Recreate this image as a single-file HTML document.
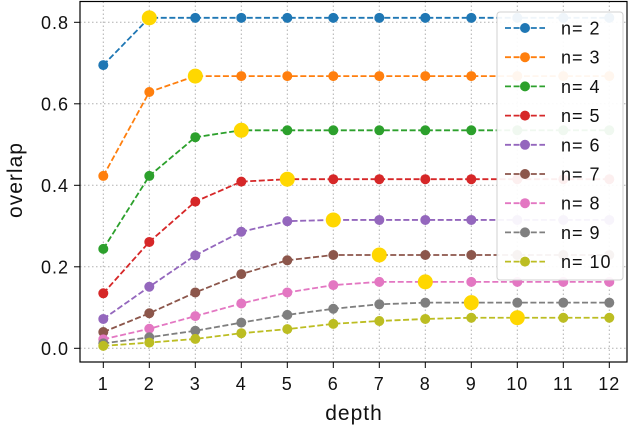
<!DOCTYPE html>
<html><head><meta charset="utf-8"><style>
body{margin:0;background:#fff;}
svg text{font-family:"Liberation Sans","DejaVu Sans",sans-serif;fill:#111;letter-spacing:1px;}
</style></head><body>
<svg id="chart" width="636" height="428" xmlns="http://www.w3.org/2000/svg">
<g id="grid"></g>
<g id="series"></g>
<rect x="80" y="1.5" width="547" height="360.5" fill="none" stroke="#000" stroke-width="1.2"/>
<g id="ticks"></g>
<text x="354" y="420" text-anchor="middle" font-size="21">depth</text>
<text transform="translate(22,180) rotate(-90)" text-anchor="middle" font-size="21">overlap</text>
<g id="legend"></g>
</svg>
<script>
const depths=[1,2,3,4,5,6,7,8,9,10,11,12];
const labels=["n= 2","n= 3","n= 4","n= 5","n= 6","n= 7","n= 8","n= 9","n= 10"];
const nValues=[2,3,4,5,6,7,8,9,10];
const colors=["#1f77b4","#ff7f0e","#2ca02c","#d62728","#9467bd","#8c564b","#e377c2","#7f7f7f","#bcbd22"];
const s2=[0.695,0.811,0.811,0.811,0.811,0.811,0.811,0.811,0.811,0.811,0.811,0.811];
const s3=[0.423,0.629,0.668,0.668,0.668,0.668,0.668,0.668,0.668,0.668,0.668,0.668];
const s4=[0.244,0.423,0.518,0.535,0.535,0.535,0.535,0.535,0.535,0.535,0.535,0.535];
const s5=[0.135,0.261,0.36,0.409,0.415,0.415,0.415,0.415,0.415,0.415,0.415,0.415];
const s6=[0.072,0.151,0.228,0.286,0.312,0.315,0.315,0.315,0.315,0.315,0.315,0.315];
const s7=[0.04,0.086,0.137,0.182,0.216,0.229,0.229,0.229,0.229,0.229,0.229,0.229];
const s8=[0.022,0.048,0.079,0.11,0.137,0.155,0.163,0.163,0.163,0.163,0.163,0.163];
const s9=[0.012,0.027,0.043,0.063,0.082,0.097,0.108,0.112,0.112,0.112,0.112,0.112];
const s10=[0.006,0.014,0.023,0.037,0.047,0.06,0.067,0.072,0.075,0.075,0.075,0.075];
const series=[s2,s3,s4,s5,s6,s7,s8,s9,s10];
const yTicks=[0,0.2,0.4,0.6,0.8];
const yTickLabels=["0.0","0.2","0.4","0.6","0.8"];
const NS="http://www.w3.org/2000/svg";
const X=d=>103.3+(d-1)*46;
const Y=v=>348.3-v*407.5;
function mk(tag,attrs,parent){const e=document.createElementNS(NS,tag);for(const k in attrs)e.setAttribute(k,attrs[k]);parent.appendChild(e);return e;}
const grid=document.getElementById('grid'),ticks=document.getElementById('ticks'),ser=document.getElementById('series'),leg=document.getElementById('legend');
depths.forEach(d=>{
  const g=mk('line',{x1:X(d),x2:X(d),y1:1.5,y2:362,stroke:'#b0b0b0','stroke-width':1,'stroke-dasharray':'1.5,2.5'},grid);
  
  
  const t=mk('line',{x1:X(d),x2:X(d),y1:362,y2:368,stroke:'#000','stroke-width':1},ticks);
  
  
  const l=mk('text',{x:X(d),y:390,'text-anchor':'middle','font-size':18},ticks);l.textContent=d;
  
  
});
yTicks.forEach((v,i)=>{
  const g=mk('line',{x1:80,x2:627,y1:Y(v),y2:Y(v),stroke:'#b0b0b0','stroke-width':1,'stroke-dasharray':'1.5,2.5'},grid);
  
  
  const t=mk('line',{x1:74,x2:80,y1:Y(v),y2:Y(v),stroke:'#000','stroke-width':1},ticks);
  
  
  const l=mk('text',{x:69,y:Y(v)+6.5,'text-anchor':'end','font-size':18},ticks);l.textContent=yTickLabels[i];
  
  
});
series.forEach((s,i)=>{
  const g=mk('g',{},ser);
  
  
  const p=mk('polyline',{points:s.map((v,j)=>X(depths[j])+','+Y(v)).join(' '),fill:'none',stroke:colors[i],'stroke-width':1.8,'stroke-dasharray':'6,2.6'},g);
  
  
  s.forEach((v,j)=>{
    const c=mk('circle',{cx:X(depths[j]),cy:Y(v),r:5,fill:colors[i]},g);
    
    
  });
  const j=depths.indexOf(nValues[i]);
  const h=mk('circle',{cx:X(depths[j]),cy:Y(s[j]),r:7.5,fill:'#ffd700'},g);
  
  
});
const box=mk('rect',{x:497,y:12,width:126,height:268,rx:3,fill:'#fff','fill-opacity':0.93,stroke:'#d0d0d0','stroke-width':1},leg);


labels.forEach((lb,i)=>{
  const y=28+i*29.2;
  const g=mk('g',{},leg);
  
  
  mk('line',{x1:505,x2:545,y1:y,y2:y,stroke:colors[i],'stroke-width':1.8,'stroke-dasharray':'6,2.6'},g);
  mk('circle',{cx:525,cy:y,r:5,fill:colors[i]},g);
  const t=mk('text',{x:561,y:y+6.5,'font-size':18},g);t.textContent=lb;
});
</script>
</body></html>
